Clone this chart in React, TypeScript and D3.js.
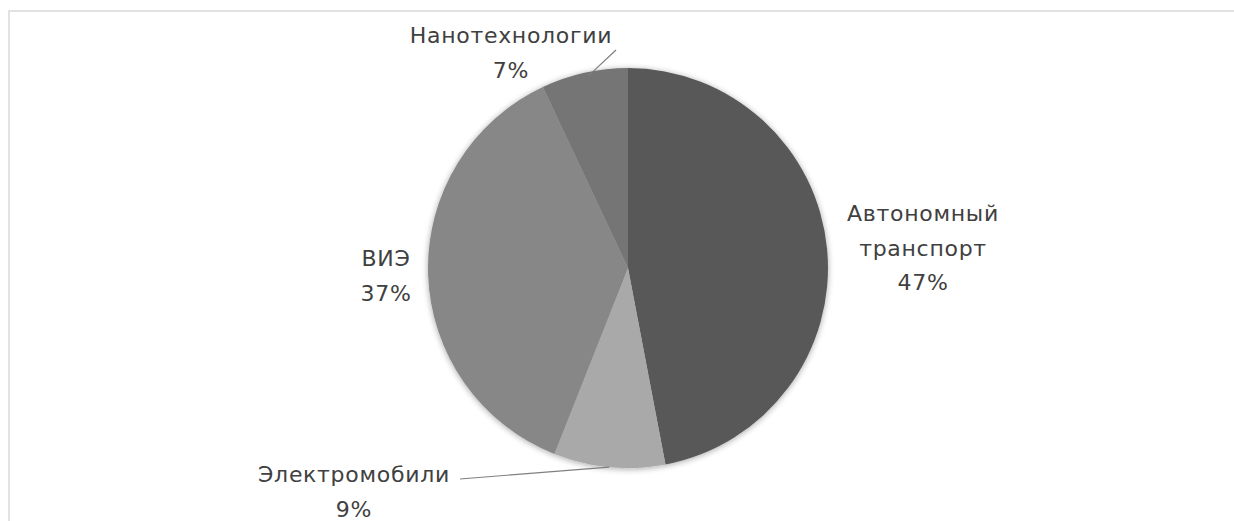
import React from "react";
import * as d3 from "d3";

const categories = ["Автономный транспорт", "Электромобили", "ВИЭ", "Нанотехнологии"];
const values = [47, 9, 37, 7];
const colors = ["#595959", "#a9a9a9", "#878787", "#757575"];
const labelLines = [["Автономный", "транспорт", "47%"], ["Электромобили", "9%"], ["ВИЭ", "37%"], ["Нанотехнологии", "7%"]];
const labelPos = [[923, 221], [354, 482], [386, 266], [511, 43]];

export default function App() {
  const W = 1234, H = 521;
  const cx = 628, cy = 268, r = 200;
  const pie = d3.pie<number>().sort(null).value((d) => d)(values);
  const arc = d3.arc<d3.PieArcDatum<number>>().innerRadius(0).outerRadius(r);
  const outer = (a: number, rr: number) => [cx + rr * Math.sin(a), cy - rr * Math.cos(a)];
  const mid = (i: number) => (pie[i].startAngle + pie[i].endAngle) / 2;
  const e = outer(mid(1), r);
  const n = outer(mid(3), r);
  return (
    <svg width={W} height={H} style={{ position: "absolute", left: 0, top: 0 }}>
      <defs>
        <filter id="sh" x="-20%" y="-20%" width="140%" height="140%">
          <feGaussianBlur in="SourceAlpha" stdDeviation="3" />
          <feOffset dx="0" dy="1" result="b" />
          <feComponentTransfer><feFuncA type="linear" slope="0.35" /></feComponentTransfer>
          <feMerge><feMergeNode /><feMergeNode in="SourceGraphic" /></feMerge>
        </filter>
      </defs>
      <rect x={0} y={0} width={W} height={H} fill="#fff" />
      <rect x={9} y={11} width={W + 20} height={H + 20} fill="none" stroke="#d9d9d9" strokeWidth={1.5} />
      <g transform={`translate(${cx},${cy})`} filter="url(#sh)">
        {pie.map((p, i) => (
          <path key={categories[i]} d={arc(p) || ""} fill={colors[i]} />
        ))}
      </g>
      <line x1={460} y1={479} x2={e[0]} y2={e[1]} stroke="#7f7f7f" strokeWidth={1.2} />
      <line x1={616} y1={50} x2={n[0] + 4} y2={n[1] + 3} stroke="#7f7f7f" strokeWidth={1.2} />
      <g fontFamily="'DejaVu Sans', sans-serif" fontSize={22} letterSpacing={0.7} fill="#404040" textAnchor="middle">
        {labelLines.map((lines, i) => (
          <text key={i} x={labelPos[i][0]} y={labelPos[i][1]}>
            {lines.map((t, j) => (
              <tspan key={j} x={labelPos[i][0]} dy={j === 0 ? 0 : 34.5}>{t}</tspan>
            ))}
          </text>
        ))}
      </g>
    </svg>
  );
}
